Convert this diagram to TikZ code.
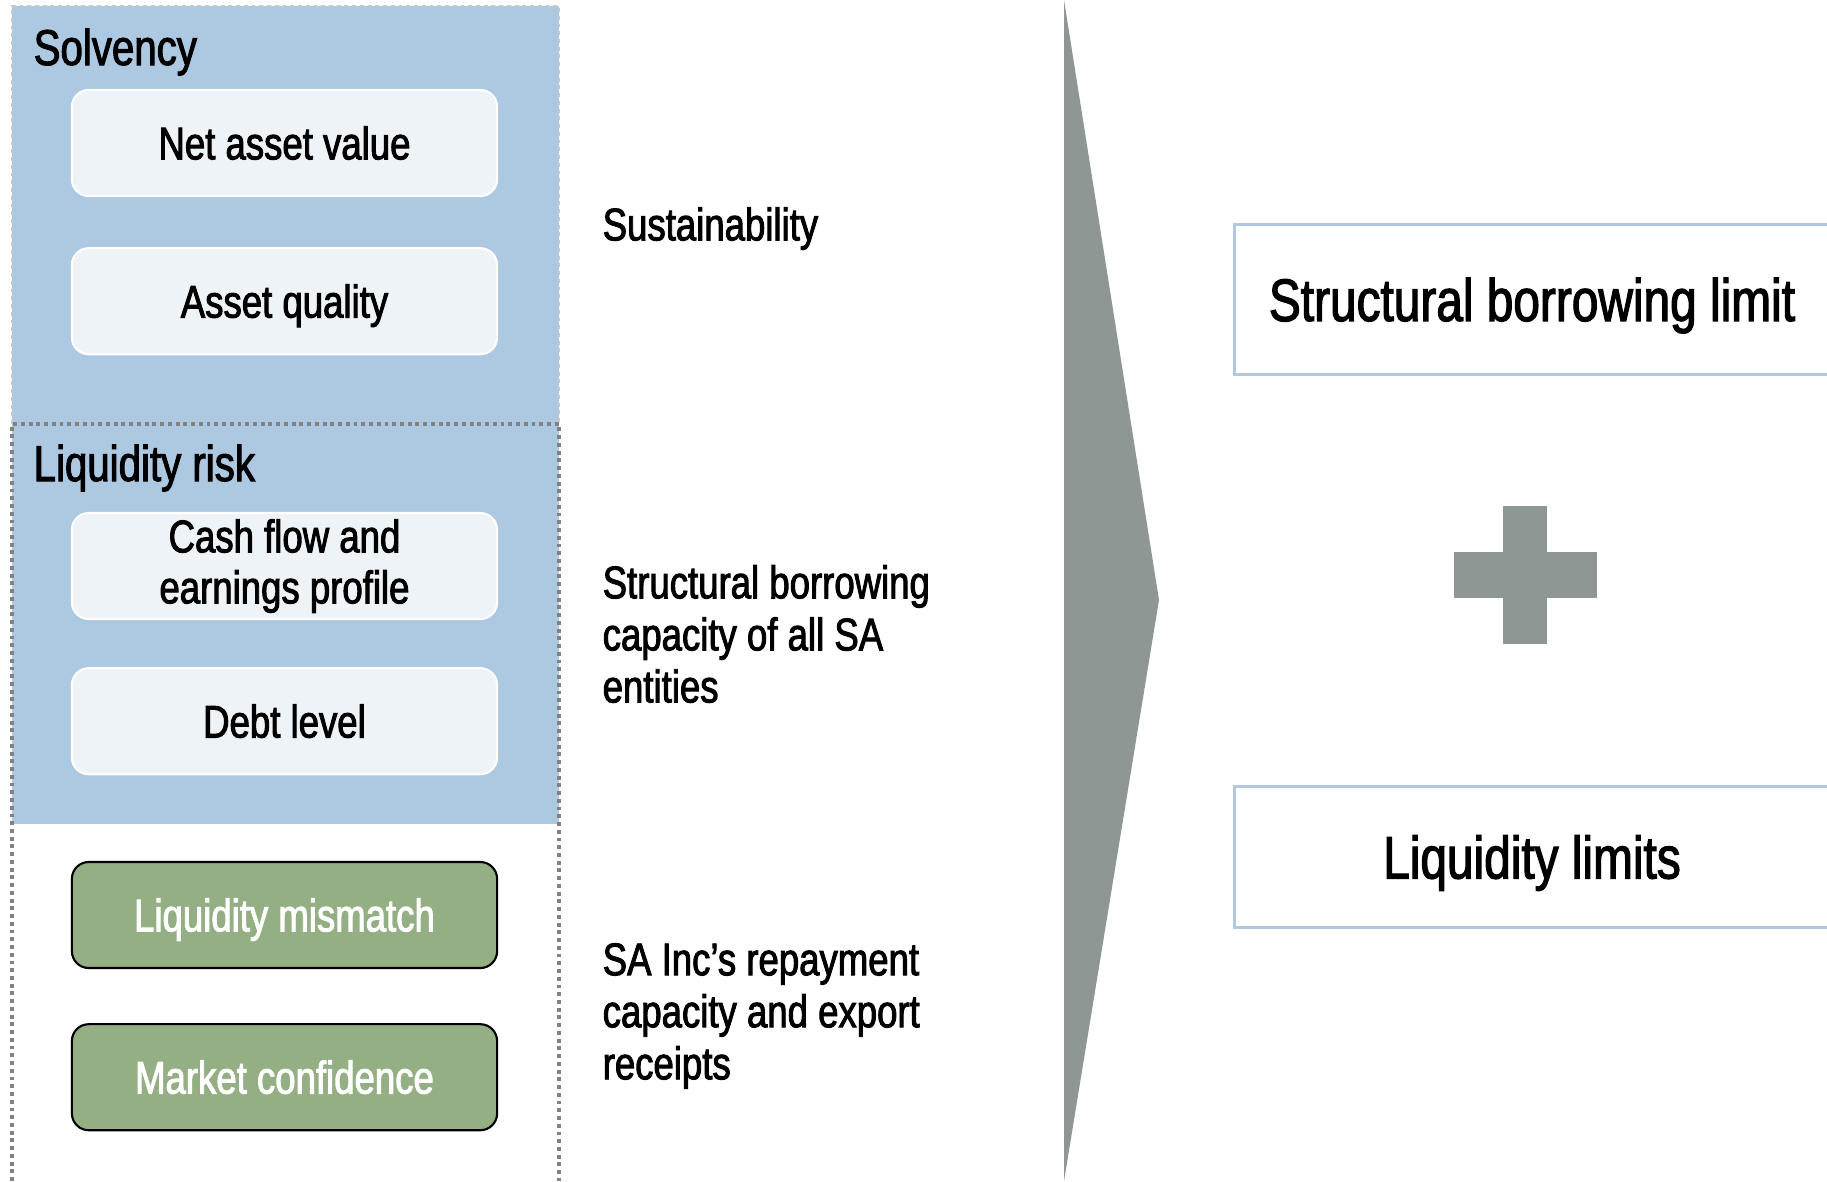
\documentclass[tikz,border=0pt]{standalone}
\usepackage{fontspec}
\setmainfont{Liberation Sans}[FakeStretch=0.8,FakeBold=2]
\usepackage{tikz}
\usetikzlibrary{positioning}
\definecolor{azulPanel}{RGB}{173,200,225}
\definecolor{grisCelda}{RGB}{238,243,248}
\definecolor{verdeLiq}{RGB}{147,175,131}
\definecolor{grisFlecha}{RGB}{143,151,149}
\definecolor{azulBorde}{RGB}{175,201,227}
\definecolor{grisPunto}{RGB}{130,130,130}

\begin{document}
\begin{tikzpicture}[
  x=0.01cm, y=-0.01cm,
  node distance=0.5cm,
  factor/.style={rectangle, rounded corners=4.8pt, draw=white, line width=0.6pt, fill=grisCelda,
               minimum width=4.25cm, minimum height=1.06cm, align=center, inner ysep=1pt,
               text height=9.3pt, text depth=0pt, font=\fontsize{13}{14.5}\selectfont},
  flag/.style={factor, draw=black, fill=verdeLiq, text=white},
  head/.style={anchor=base west, inner sep=0pt, font=\fontsize{14.3}{16}\selectfont},
  note/.style={anchor=west, inner sep=0pt, align=left, font=\fontsize{13}{14.8}\selectfont},
  limit/.style={rectangle, draw=azulBorde, line width=0.85pt, minimum width=5.94cm,
               text height=12.2pt, text depth=0pt, font=\fontsize{17}{19}\selectfont},
  frame/.style={draw=grisPunto, line width=1pt, dash pattern=on 1.1pt off 1.1pt}
]
  \useasboundingbox (0,0) rectangle (1827,1181);

  \fill[azulPanel] (12,6) rectangle (559,824);
  \draw[frame, draw=grisPunto!45, line width=0.4pt] (12,424) -- (12,6) -- (559,6) -- (559,424);
  \draw[frame] (12,1181) -- (12,424) -- (559,424) -- (559,1181);

  \node[head] (solv) at (33,65) {Solvency};
  \node[factor] (nav) at (284.5,143) {Net asset value};
  \node[factor, below=of nav] (quality) {Asset quality};

  \node[head] (liq) at (33,481) {Liquidity risk};
  \node[factor, text height={}, text depth={}] (cash) at (284.5,566) {Cash flow and\\earnings profile};
  \node[factor, below=0.47cm of cash] (debt) {Debt level};

  \node[flag] (mismatch) at (284.5,915) {Liquidity mismatch};
  \node[flag, below=0.54cm of mismatch] (conf) {Market confidence};

  \node[note, text height=9.3pt, text depth=0pt] (sust) at (602,224) {Sustainability};
  \node[note] (capacity) at (602,634) {Structural borrowing\\capacity of all SA\\entities};
  \node[note] (repay) at (602,1016) {SA Inc’s repayment\\capacity and export\\receipts};

  \fill[grisFlecha] (1064,0) -- (1159,600) -- (1064,1181) -- cycle;

  \node[limit, minimum height=1.49cm] (sbl) at (1532,299.5) {Structural borrowing limit};
  \fill[grisFlecha] (1503,506) rectangle (1547,644);
  \fill[grisFlecha] (1454,552) rectangle (1597,598);
  \node[limit, minimum height=1.40cm] (ll) at (1532,857) {Liquidity limits};
\end{tikzpicture}
\end{document}
